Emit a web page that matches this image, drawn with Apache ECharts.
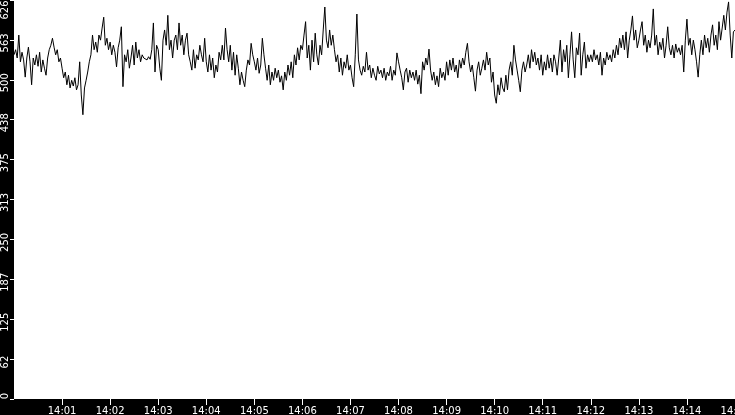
<!DOCTYPE html>
<html>
	<head>
		<meta charset="utf-8">
		<title>14:00 - 14:15</title>
		<style type="text/css">
			html, body{
				margin: 0;
				padding: 0;
				background: #000;
			}
			#chart{
				width: 735px;
				height: 415px;
			}
		</style>
	</head>
	<body>
		<div id="chart"></div>

		<script src="https://cdn.jsdelivr.net/npm/echarts@6/dist/echarts.min.js"></script>
		<script>
			// one sample every 2 seconds, from 14:00:00 to 14:15:00
			var step = 2;
			var samples = [
				540, 548, 535, 571, 529, 544, 532, 505, 535, 552,
				529, 493, 535, 524, 540, 522, 544, 513, 532, 519,
				508, 535, 548, 555, 566, 552, 540, 548, 529, 535,
				519, 504, 513, 493, 508, 488, 500, 491, 504, 485,
				493, 529, 477, 446, 488, 500, 513, 529, 540, 571,
				548, 560, 544, 571, 563, 582, 599, 555, 566, 548,
				560, 540, 555, 544, 521, 551, 563, 584, 490, 540,
				529, 548, 519, 535, 555, 524, 560, 535, 548, 529,
				540, 535, 538, 532, 537, 533, 548, 590, 513, 555,
				548, 519, 500, 563, 579, 555, 602, 548, 563, 535,
				563, 571, 548, 590, 555, 571, 540, 563, 574, 540,
				529, 516, 548, 519, 540, 532, 555, 540, 529, 566,
				529, 513, 540, 516, 535, 504, 524, 513, 544, 532,
				555, 532, 582, 548, 529, 555, 516, 544, 508, 540,
				519, 493, 513, 500, 490, 516, 532, 524, 558, 540,
				529, 516, 535, 511, 524, 566, 540, 519, 500, 524,
				493, 513, 500, 519, 504, 516, 497, 507, 485, 513,
				500, 524, 508, 529, 504, 540, 524, 551, 532, 555,
				548, 571, 592, 535, 555, 516, 563, 529, 574, 540,
				524, 555, 540, 579, 615, 563, 551, 579, 555, 571,
				548, 529, 540, 513, 535, 508, 529, 519, 540, 516,
				524, 504, 490, 540, 604, 532, 516, 508, 522, 513,
				544, 516, 524, 504, 519, 508, 500, 522, 510, 516,
				504, 519, 500, 513, 507, 522, 500, 516, 508, 543,
				529, 516, 504, 485, 513, 519, 497, 516, 504, 513,
				500, 516, 494, 508, 479, 529, 516, 535, 524, 549,
				516, 500, 513, 493, 507, 490, 519, 504, 513, 500,
				529, 508, 532, 516, 535, 513, 524, 504, 532, 519,
				535, 524, 544, 558, 529, 513, 524, 504, 483, 516,
				529, 508, 519, 532, 516, 544, 524, 535, 497, 513,
				477, 464, 493, 477, 504, 488, 482, 508, 485, 516,
				529, 508, 555, 532, 516, 500, 482, 516, 529, 513,
				524, 540, 519, 548, 529, 544, 524, 535, 516, 540,
				508, 529, 516, 540, 519, 535, 513, 540, 529, 508,
				535, 563, 513, 548, 529, 555, 504, 540, 576, 532,
				504, 551, 540, 574, 508, 540, 560, 519, 540, 529,
				540, 529, 548, 532, 540, 524, 544, 508, 535, 524,
				544, 532, 540, 529, 548, 535, 555, 540, 566, 551,
				571, 548, 576, 535, 563, 579, 601, 563, 579, 551,
				563, 579, 592, 555, 571, 544, 563, 551, 571, 612,
				555, 571, 540, 560, 548, 566, 535, 555, 584, 551,
				540, 555, 535, 557, 544, 551, 540, 555, 513, 563,
				596, 555, 566, 540, 563, 548, 529, 505, 540, 563,
				540, 571, 551, 566, 544, 571, 587, 555, 571, 548,
				592, 563, 582, 602, 579, 607, 623, 571, 535, 576,
				579
			];

			// axes
			var yMax = 626;
			var yStep = 62.6;
			var xMax = 900;   // seconds after 14:00
			var xStep = 60;

			var points = samples.map(function(v, i){
				return [i * step, v];
			});

			function pad(n){
				return n < 10 ? '0' + n : '' + n;
			}

			var chart = echarts.init(document.getElementById('chart'));

			var option = {
				animation: false,
				backgroundColor: '#000',
				grid: {
					left: 14,
					right: 0,
					top: 0,
					bottom: 16,
					containLabel: false,
					outerBoundsMode: 'none',
					show: true,
					backgroundColor: '#fff',
					borderWidth: 0
				},
				xAxis: {
					type: 'value',
					min: 0,
					max: xMax,
					interval: xStep,
					axisLine: { show: false },
					axisTick: {
						length: 6,
						lineStyle: { color: '#fff' }
					},
					splitLine: { show: false },
					axisLabel: {
						showMinLabel: false,
						margin: 7,
						color: '#fff',
						fontFamily: 'DejaVu Sans',
						fontSize: 10,
						formatter: function(v){
							return '14:' + pad(Math.round(v / 60));
						}
					}
				},
				yAxis: {
					type: 'value',
					min: 0,
					max: yMax,
					interval: yStep,
					axisLine: { show: false },
					axisTick: {
						length: 4,
						lineStyle: { color: '#fff' }
					},
					splitLine: { show: false },
					axisLabel: {
						rotate: 90,
						margin: 4,
						color: '#fff',
						fontFamily: 'DejaVu Sans',
						fontSize: 10,
						formatter: function(v){
							var s = '' + Math.floor(v + 1e-6);
							if(v < 1){
								return '{lo|' + s + '}';
							}
							if(v > yMax - 1){
								return '{hi|' + s + '}';
							}
							return '{mid|' + s + '}';
						},
						rich: {
							lo: { padding: [0, 0, 0, 6], color: '#fff', fontSize: 10, fontFamily: 'DejaVu Sans' },
							mid: { padding: [0, 6, 0, 0], color: '#fff', fontSize: 10, fontFamily: 'DejaVu Sans' },
							hi: { padding: [0, 20, 0, 0], color: '#fff', fontSize: 10, fontFamily: 'DejaVu Sans' }
						}
					}
				},
				series: [{
					type: 'line',
					data: points,
					symbol: 'none',
					lineStyle: {
						color: '#000',
						width: 1
					}
				}]
			};

			chart.setOption(option);
		</script>
	</body>
</html>
